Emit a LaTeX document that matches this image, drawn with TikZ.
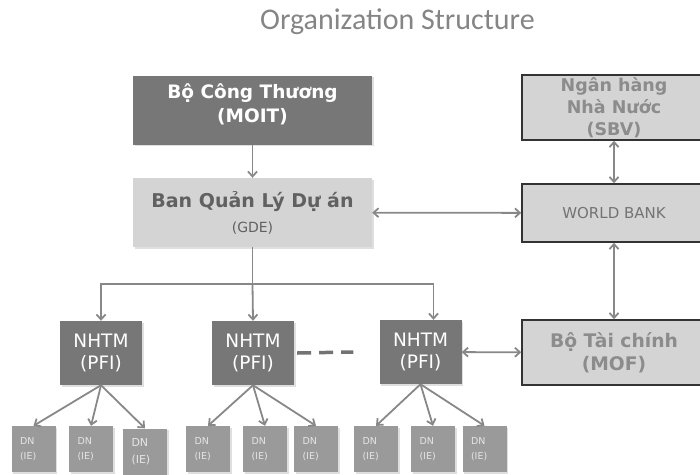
\documentclass[tikz,border=0pt]{standalone}
\usepackage{fontspec}
\setmainfont{DejaVu Sans}
\newfontfamily\titlefont{Carlito}
\usetikzlibrary{arrows.meta,calc,positioning,shadows}
\definecolor{darkbox}{HTML}{777777}
\definecolor{lightbox}{HTML}{D4D4D4}
\definecolor{dnbox}{HTML}{9A9A9A}
\definecolor{linegray}{HTML}{888888}
\tikzset{box/.style={align=center,inner sep=0pt,fill=lightbox,minimum width=239pt,minimum height=69pt},
  shade box/.style={drop shadow={shadow xshift=1.5pt,shadow yshift=-1.5pt,opacity=0.25}},
  darkblk/.style={box,fill=darkbox,text=white},
  agency/.style={box,draw=black!80,line width=1.5pt,minimum width=184pt,text=black!45},
  arr/.style={-{Straight Barb[length=5pt,width=9pt]},draw=linegray,line width=1.8pt},
  darr/.style={arr,{Straight Barb[length=5pt,width=9pt]}-{Straight Barb[length=5pt,width=9pt]}}}

\begin{document}
\begin{tikzpicture}[x=1pt,y=-1pt,
  pfi/.style={darkblk,shade box,minimum width=82pt,minimum height=64pt,font=\fontsize{18.5}{22}\selectfont},
  dn/.style={fill=dnbox,shade box,text=black!10,minimum width=44pt,minimum height=46pt,inner sep=0pt,text width=27pt,align=left,font=\fontsize{9.5}{15}\selectfont}]
\clip (0,0) rectangle (700,474);
\node[anchor=base,text=black!48,font=\titlefont\fontsize{30}{34}\selectfont] (title) at (397.5,29){Organization Structure};
\node[darkblk,shade box,text depth=13pt,font=\bfseries\fontsize{18.5}{24}\selectfont] (moit) at (252.5,110){Bộ Công Thương\\(MOIT)};
\node[box,shade box,text=black!62,font=\bfseries\fontsize{19}{25}\selectfont] (gde) at (252.5,212.5){Ban Quản Lý Dự án\\{\mdseries\fontsize{14}{16}\selectfont(GDE)}};
\node[agency,minimum height=65pt,font=\bfseries\fontsize{17.5}{22}\selectfont] (sbv) at (614,107.5){Ngân hàng\\Nhà Nước\\(SBV)};
\node[agency,text=black!55,minimum height=58pt,font=\fontsize{15}{18}\selectfont] (wb) at (614,213){WORLD BANK};
\node[agency,minimum height=65pt,font=\bfseries\fontsize{18.7}{23}\selectfont] (mof) at (614,352.5){Bộ Tài chính\\(MOF)};
\node[pfi] (n1) at (101,353){NHTM\\(PFI)};
\node[pfi] (n2) at (253,353){NHTM\\(PFI)};
\node[pfi] (n3) at (420.5,352){NHTM\\(PFI)};
\node[dn] (d1) at (33.5,449){DN\\(IE)};
\node[dn] (d2) at (91,449){DN\\(IE)};
\node[dn,font=\fontsize{11}{17}\selectfont] (d3) at (145,451.5){DN\\(IE)};
\node[dn] (d4) at (208,449){DN\\(IE)};
\node[dn] (d5) at (265,449){DN\\(IE)};
\node[dn] (d6) at (316,449){DN\\(IE)};
\node[dn] (d7) at (376,449){DN\\(IE)};
\node[dn] (d8) at (433,449){DN\\(IE)};
\node[dn] (d9) at (484.5,449){DN\\(IE)};
\draw[arr] (moit)--(gde);
\draw[darr] (gde)--(wb); \draw[darr] (sbv)--(wb); \draw[darr] (wb)--(mof);
\draw[darr] (n3)--(mof);
\coordinate (split) at ($(gde.south)+(0,37)$);
\draw[arr] (gde.south)--(split)-|(n1.north);
\draw[arr] (split)--(n2.north);
\draw[arr] (split)-|($(n3.north)+(13,0)$);
\draw[black!55,line width=3.5pt,dash pattern=on 14pt off 8pt] ($(n2.east)+(3,0)$)--($(n3.west)+(-26,0)$);
\foreach \p/\a/\b/\c in {n1/d1/d2/d3,n2/d4/d5/d6,n3/d7/d8/d9}{
  \draw[arr] (\p.south)--(\a.north); \draw[arr] (\p.south)--(\b.north); \draw[arr] (\p.south)--(\c.north);}
\end{tikzpicture}
\end{document}
